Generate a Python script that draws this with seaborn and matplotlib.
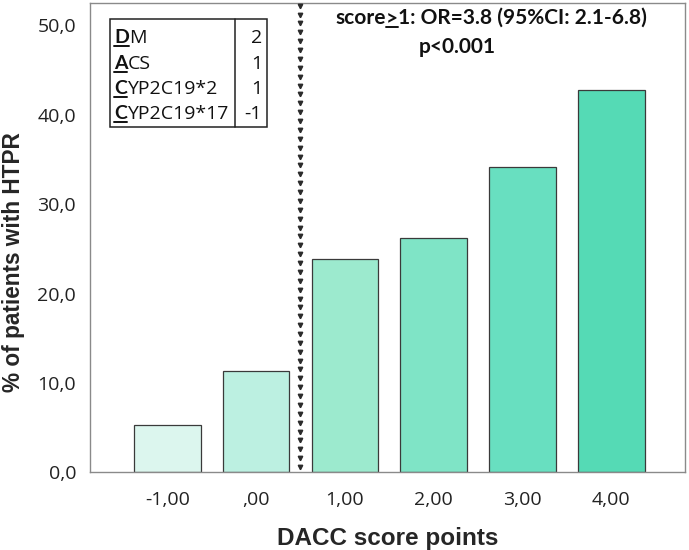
import numpy as np
import pandas as pd
import seaborn as sns
import matplotlib.pyplot as plt
from matplotlib.patches import Rectangle
from matplotlib.lines import Line2D

# data
scores = ["-1,00", ",00", "1,00", "2,00", "3,00", "4,00"]
pct_htpr = [5.3, 11.4, 23.9, 26.2, 34.2, 42.8]
bar_colors = ["#dcf6ee", "#bcf0e1", "#9ceace", "#7fe4c6", "#68dfc0", "#55dab5"]

table_names = ["DM", "ACS", "CYP2C19*2", "CYP2C19*17"]
table_points = ["2", "1", "1", "-1"]
y_ticks = [0, 10, 20, 30, 40, 50]

df = pd.DataFrame({"score": scores, "pct": pct_htpr})

sns.set_theme(style="white")
plt.rcParams["font.family"] = ["Open Sans", "DejaVu Sans"]

fig = plt.figure(figsize=(6.89, 5.5), dpi=100)
ax = fig.add_axes([0.1306, 0.141, 0.8636, 0.8535])

sns.barplot(data=df, x="score", y="pct", hue="score", palette=bar_colors,
            saturation=1, width=0.75, edgecolor="#3a3a3a", linewidth=0.9,
            legend=False, ax=ax)

ax.set_xlim(-0.87, 5.83)
ax.set_ylim(0, 52.5)
ax.set_yticks(y_ticks)
ax.set_yticklabels([f"{v},0" for v in y_ticks])

# cut-off line between 0 and 1 points
n = 53
ax.plot([1.5] * n, np.linspace(0.6, 52.2, n), linestyle="none", marker="v",
        markersize=3.2, color="#2b2b2b", zorder=5)

for s in ax.spines.values():
    s.set_color("#8a8a8a")
    s.set_linewidth(1.0)
ax.tick_params(axis="both", direction="out", length=6, width=1, color="#8a8a8a",
               labelsize=14, labelcolor="#222222", pad=4)
ax.tick_params(axis="x", pad=7)

ax.set_xlabel("DACC score points", fontsize=17.5, fontweight="bold",
              family="Liberation Sans", labelpad=13)
ax.set_ylabel("% of patients with HTPR", fontsize=16.3, fontweight="bold",
              family="Liberation Sans")
ax.yaxis.set_label_coords(-0.11, 0.448)


def px(x, y):
    # pixel position (from top-left) -> figure fraction
    return x / 689, 1 - y / 550


renderer = fig.canvas.get_renderer()
inv = fig.transFigure.inverted()


def underline(t, gap=3, lw=1.4):
    bb = t.get_window_extent(renderer).transformed(inv)
    _, ly = t.get_position()
    uy = ly - gap / 550
    fig.add_artist(Line2D([bb.x0, bb.x1], [uy, uy], transform=fig.transFigure,
                          color="#111111", linewidth=lw))
    return bb


# score table in upper left
tx0, tx1, tdiv = 110, 267, 235
ty0, ty1 = 19, 127
x0, y0 = px(tx0, ty1)
x1, y1 = px(tx1, ty0)
fig.add_artist(Rectangle((x0, y0), x1 - x0, y1 - y0, transform=fig.transFigure,
                         fill=False, edgecolor="#222222", linewidth=1.1))
xd, _ = px(tdiv, 0)
fig.add_artist(Line2D([xd, xd], [y0, y1], transform=fig.transFigure,
                      color="#222222", linewidth=1.1))

row_y = [43, 69, 94, 119]
for name, pts, ry in zip(table_names, table_points, row_y):
    lx, ly = px(114, ry)
    t1 = fig.text(lx, ly, name[0], fontsize=14, fontweight="bold", va="baseline",
                  ha="left", color="#111111", family="Lato")
    bb = underline(t1)
    fig.text(bb.x1, ly, name[1:], fontsize=14, va="baseline", ha="left", color="#111111")
    rx, _ = px(262, ry)
    fig.text(rx, ly, pts, fontsize=14, va="baseline", ha="right", color="#111111")

# odds ratio annotation, ">" underlined as in the original
ann = dict(fontsize=15, fontweight="bold", va="baseline", ha="left",
           color="#111111", family="Lato")
ax_x, ax_y = px(335, 24)
a1 = fig.text(ax_x, ax_y, "score", **ann)
b1 = a1.get_window_extent(renderer).transformed(inv)
a2 = fig.text(b1.x1, ax_y, ">", **ann)
b2 = underline(a2, gap=2.5, lw=1.4)
fig.text(b2.x1, ax_y, "1: OR=3.8 (95%CI: 2.1-6.8)", **ann)
px_x, px_y = px(419, 53)
fig.text(px_x, px_y, "p<0.001", **ann)

fig.savefig("out.png", dpi=100)
